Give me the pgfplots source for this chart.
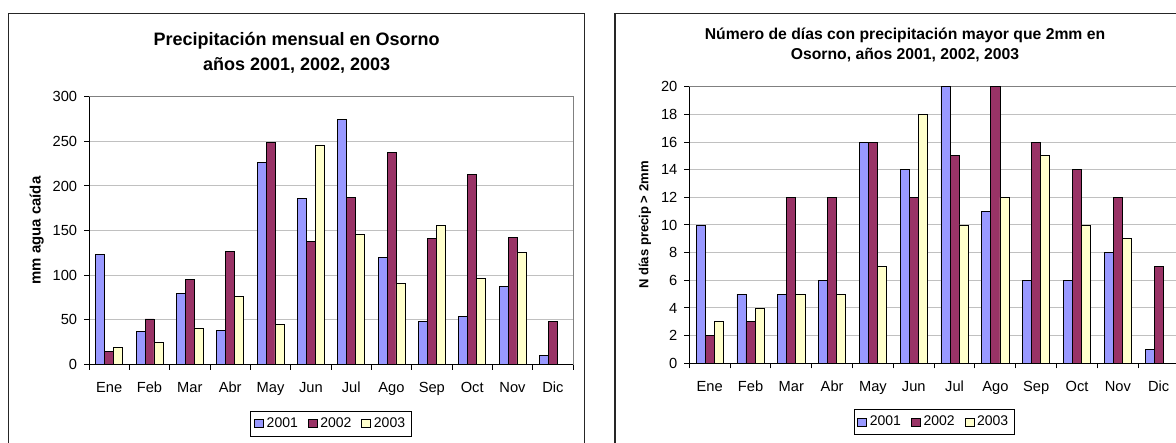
\documentclass[border=0pt]{standalone}
\usepackage{pgfplots}
\pgfplotsset{compat=1.18}
\usepackage{fontspec}
\setmainfont{Liberation Sans}
\definecolor{c2001}{HTML}{9999FF}
\definecolor{c2002}{HTML}{993366}
\definecolor{c2003}{HTML}{FFFFCC}
\definecolor{gridc}{HTML}{C0C0C0}
\definecolor{borderc}{HTML}{808080}
\pgfplotsset{
  excelbar/.style={
    scale only axis,
    ybar=0pt,
    clip=false,
    xmin=-0.5, xmax=11.5,
    ymin=0,
    xtick={-0.5,0.5,1.5,2.5,3.5,4.5,5.5,6.5,7.5,8.5,9.5,10.5,11.5},
    xticklabels={},
    extra x ticks={0,1,2,3,4,5,6,7,8,9,10,11},
    extra x tick labels={Ene,Feb,Mar,Abr,May,Jun,Jul,Ago,Sep,Oct,Nov,Dic},
    extra x tick style={major tick length=0pt, grid=none,
      xticklabel style={anchor=base, yshift=-20.8pt}},
    tick align=outside,
    tick pos=left,
    major tick length=3.75pt,
    tick style={black, line width=0.75pt},
    axis line style={borderc, line width=0.75pt},
    ymajorgrids,
    major grid style={gridc, line width=0.75pt},
    tick label style={font=\fontsize{11}{13}\selectfont},
    /pgf/number format/assume math mode=true,
    yticklabel style={anchor=east, inner sep=0pt, xshift=-5pt},
    legend columns=3,
    legend style={draw=black, line width=0.75pt, anchor=north,
      font=\fontsize{10.5}{12}\selectfont, inner xsep=2.5pt, inner ysep=3pt,
      /tikz/every even column/.append style={column sep=5.5pt}},
    legend image code/.code={\draw[#1, draw=black, line width=0.6pt] (0pt,-3pt) rectangle (6.75pt,3pt);},
  }
}
\begin{document}
\begin{tikzpicture}[x=0.75pt,y=0.75pt]
\begin{scope}
\clip (0,0) rectangle (1176,442);
% frames
\draw[black!85, line width=0.9pt] (8.7,428.7) rectangle (584.7,-20);
\draw[black!85, line width=0.9pt] (615,428.7) rectangle (1191,-20);
% titles
\node[anchor=base, font=\bfseries\fontsize{13.5}{16}\selectfont] at (296.7,396.3) {Precipitación mensual en Osorno};
\node[anchor=base, font=\bfseries\fontsize{13.5}{16}\selectfont] at (296.7,371.3) {años 2001, 2002, 2003};
\node[anchor=base, font=\bfseries\fontsize{11.8}{14}\selectfont] at (905,402.7) {Número de días con precipitación mayor que 2mm en};
\node[anchor=base, font=\bfseries\fontsize{11.8}{14}\selectfont] at (905,382) {Osorno, años 2001, 2002, 2003};

\begin{axis}[excelbar,
  at={(66.75pt,58.125pt)}, anchor=south west,
  width=363pt, height=200.85pt,
  ymax=300, ytick={0,50,...,300},
  bar width=6.72pt,
  ylabel={mm agua caída},
  every axis y label/.style={at={([xshift=-39.2pt]rel axis cs:0,0.5)}, rotate=90, anchor=center,
    font=\bfseries\fontsize{11.2}{13}\selectfont},
  legend style={at={(0.5,-0.172)}},
]
\addplot[fill=c2001, draw=black, line width=0.6pt] coordinates {(0,123) (1,37) (2,80) (3,38) (4,226) (5,186) (6,275) (7,120) (8,48) (9,54) (10,87) (11,10)};
\addplot[fill=c2002, draw=black, line width=0.6pt] coordinates {(0,15) (1,51) (2,95) (3,127) (4,249) (5,138) (6,187) (7,238) (8,141) (9,213) (10,142) (11,48)};
\addplot[fill=c2003, draw=black, line width=0.6pt] coordinates {(0,19) (1,25) (2,41) (3,76) (4,45) (5,246) (6,146) (7,91) (8,156) (9,96) (10,126)};
\legend{2001,2002,2003}
\draw[black, line width=0.75pt] (rel axis cs:0,1) -- (rel axis cs:0,0) -- (rel axis cs:1,0);
\end{axis}

\begin{axis}[excelbar,
  at={(516.975pt,59.025pt)}, anchor=south west,
  width=367.3pt, height=207.45pt,
  ymax=20, ytick={0,2,...,20},
  bar width=6.8pt,
  ylabel={N días precip > 2mm},
  every axis y label/.style={at={([xshift=-33.2pt]rel axis cs:0,0.5)}, rotate=90, anchor=center,
    font=\bfseries\fontsize{9.8}{12}\selectfont},
  legend style={at={(0.5,-0.165)}},
]
\addplot[fill=c2001, draw=black, line width=0.6pt] coordinates {(0,10) (1,5) (2,5) (3,6) (4,16) (5,14) (6,20) (7,11) (8,6) (9,6) (10,8) (11,1)};
\addplot[fill=c2002, draw=black, line width=0.6pt] coordinates {(0,2) (1,3) (2,12) (3,12) (4,16) (5,12) (6,15) (7,20) (8,16) (9,14) (10,12) (11,7)};
\addplot[fill=c2003, draw=black, line width=0.6pt] coordinates {(0,3) (1,4) (2,5) (3,5) (4,7) (5,18) (6,10) (7,12) (8,15) (9,10) (10,9)};
\legend{2001,2002,2003}
\draw[black, line width=0.75pt] (rel axis cs:0,1) -- (rel axis cs:0,0) -- (rel axis cs:1,0);
\end{axis}
\end{scope}
\pgfresetboundingbox
\path[use as bounding box] (0,0) rectangle (1176,442);
\end{tikzpicture}
\end{document}
